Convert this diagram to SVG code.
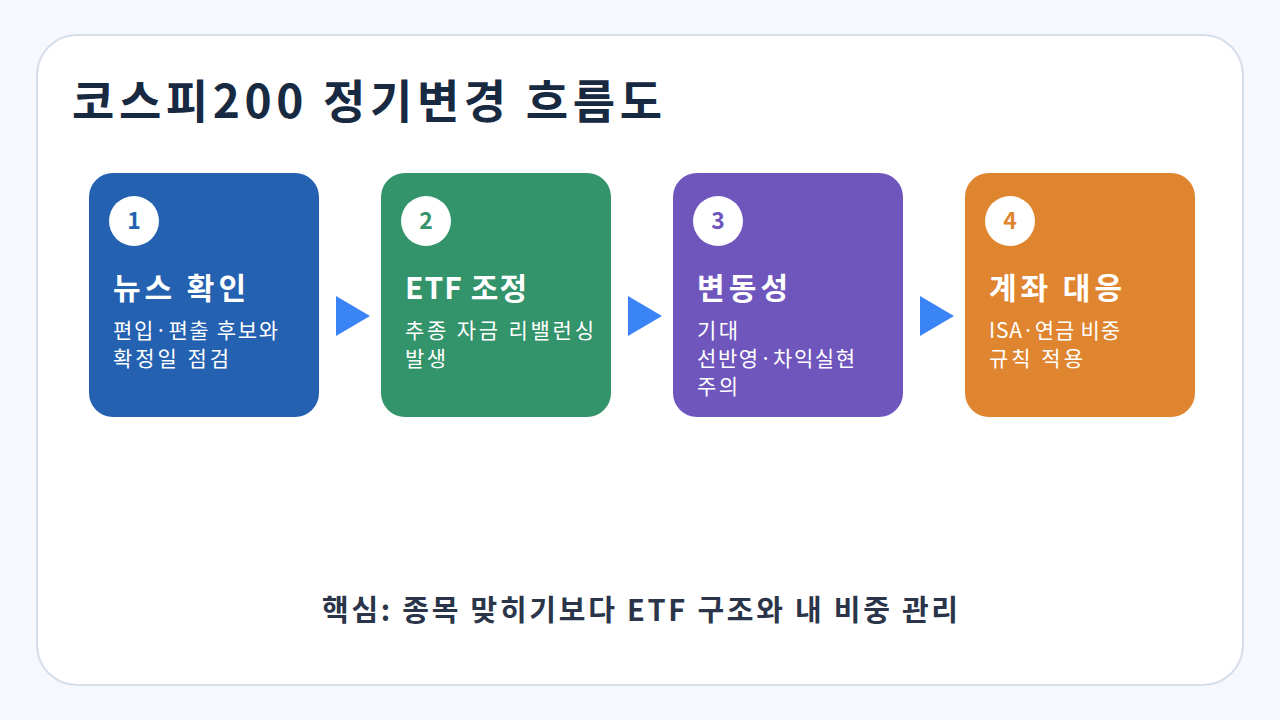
<svg xmlns="http://www.w3.org/2000/svg" width="1280" height="720" viewBox="0 0 1280 720">
<defs>
<style>
text{font-family:"Noto Sans CJK KR","Noto Sans",sans-serif}
.title{font-size:46px;font-weight:700;fill:#172a42}
.num{font-size:23px;font-weight:700;text-anchor:middle}
.head{font-size:30px;font-weight:700;fill:#ffffff}
.desc{font-size:21px;fill:#ffffff}
.arrow{fill:#3b84f6}
.foot{font-size:29px;font-weight:700;fill:#2a3549}
</style>
</defs>
<rect width="1280" height="720" fill="#f5f8fc"/>
<rect x="37" y="35" width="1206" height="650" rx="40" fill="#ffffff" stroke="#d5deeb" stroke-width="2"/>
<text class="title" x="72" y="118" textLength="590">코스피200 정기변경 흐름도</text>
<g id="node1">
<rect x="89" y="173" width="230" height="244" rx="24" fill="#2461b0"/>
<circle cx="134" cy="221" r="25" fill="#ffffff"/>
<text class="num" x="134" y="229" fill="#2461b0">1</text>
<text class="head" x="113" y="299" textLength="133">뉴스 확인</text>
<text class="desc" x="113" y="338" textLength="165">편입·편출 후보와</text>
<text class="desc" x="113" y="366" textLength="116">확정일 점검</text>
</g>
<g id="node2">
<rect x="381" y="173" width="230" height="244" rx="24" fill="#33936a"/>
<circle cx="426" cy="221" r="25" fill="#ffffff"/>
<text class="num" x="426" y="229" fill="#33936a">2</text>
<text class="head" x="405" y="299" textLength="122">ETF 조정</text>
<text class="desc" x="405" y="338" textLength="189">추종 자금 리밸런싱</text>
<text class="desc" x="405" y="366" textLength="41">발생</text>
</g>
<g id="node3">
<rect x="673" y="173" width="230" height="244" rx="24" fill="#6f56bd"/>
<circle cx="718" cy="221" r="25" fill="#ffffff"/>
<text class="num" x="718" y="229" fill="#6f56bd">3</text>
<text class="head" x="697" y="299" textLength="91">변동성</text>
<text class="desc" x="697" y="338" textLength="41">기대</text>
<text class="desc" x="697" y="366" textLength="158">선반영·차익실현</text>
<text class="desc" x="697" y="394" textLength="41">주의</text>
</g>
<g id="node4">
<rect x="965" y="173" width="230" height="244" rx="24" fill="#e0852f"/>
<circle cx="1010" cy="221" r="25" fill="#ffffff"/>
<text class="num" x="1010" y="229" fill="#e0852f">4</text>
<text class="head" x="989" y="299" textLength="133">계좌 대응</text>
<text class="desc" x="989" y="338" textLength="131">ISA·연금 비중</text>
<text class="desc" x="989" y="366" textLength="94">규칙 적용</text>
</g>
<g id="connectors">
<polygon class="arrow" points="336,296 370,316 336,336"/>
<polygon class="arrow" points="628,296 662,316 628,336"/>
<polygon class="arrow" points="920,296 954,316 920,336"/>
</g>
<text class="foot" x="322" y="621" textLength="636">핵심: 종목 맞히기보다 ETF 구조와 내 비중 관리</text>
</svg>
